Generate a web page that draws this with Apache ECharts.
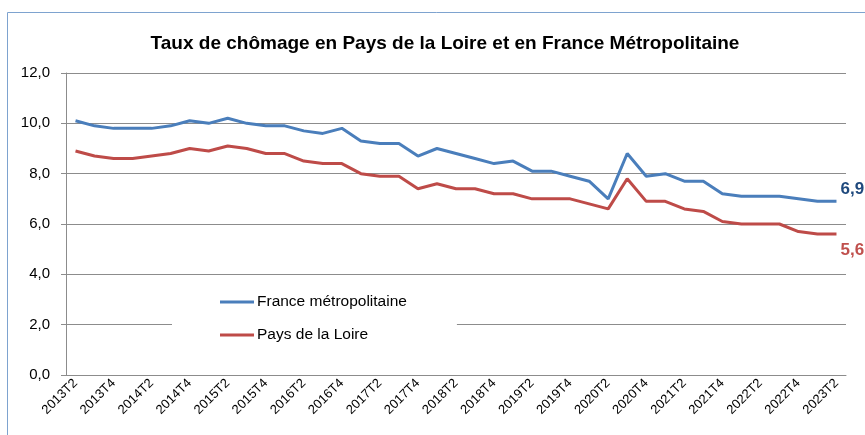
<!DOCTYPE html>
<html>
<head>
<meta charset="utf-8">
<script src="https://cdn.jsdelivr.net/npm/echarts@6/dist/echarts.min.js"></script>
<style>
  html, body { margin: 0; padding: 0; background: #fff; }
  #chart { width: 865px; height: 435px; }
</style>
</head>
<body>
<div id="chart"></div>
<script>
const categories = [
  '2013T2','2013T3','2013T4','2014T1','2014T2','2014T3','2014T4','2015T1','2015T2','2015T3',
  '2015T4','2016T1','2016T2','2016T3','2016T4','2017T1','2017T2','2017T3','2017T4','2018T1',
  '2018T2','2018T3','2018T4','2019T1','2019T2','2019T3','2019T4','2020T1','2020T2','2020T3',
  '2020T4','2021T1','2021T2','2021T3','2021T4','2022T1','2022T2','2022T3','2022T4','2023T1',
  '2023T2'
];
const franceValues = [
  10.1, 9.9, 9.8, 9.8, 9.8, 9.9, 10.1, 10.0, 10.2, 10.0,
  9.9, 9.9, 9.7, 9.6, 9.8, 9.3, 9.2, 9.2, 8.7, 9.0,
  8.8, 8.6, 8.4, 8.5, 8.1, 8.1, 7.9, 7.7, 7.0, 8.8,
  7.9, 8.0, 7.7, 7.7, 7.2, 7.1, 7.1, 7.1, 7.0, 6.9,
  6.9
];
const loireValues = [
  8.9, 8.7, 8.6, 8.6, 8.7, 8.8, 9.0, 8.9, 9.1, 9.0,
  8.8, 8.8, 8.5, 8.4, 8.4, 8.0, 7.9, 7.9, 7.4, 7.6,
  7.4, 7.4, 7.2, 7.2, 7.0, 7.0, 7.0, 6.8, 6.6, 7.8,
  6.9, 6.9, 6.6, 6.5, 6.1, 6.0, 6.0, 6.0, 5.7, 5.6,
  5.6
];
const yTicks = [0, 2, 4, 6, 8, 10, 12];
const titleText = 'Taux de chômage en Pays de la Loire et en France Métropolitaine';
const seriesNames = ['France métropolitaine', 'Pays de la Loire'];

const FONT = 'Liberation Sans';
const fmt = v => Number(v).toFixed(1).replace('.', ',');

const chart = echarts.init(document.getElementById('chart'), null, { renderer: 'canvas' });
chart.setOption({
  animation: false,
  backgroundColor: '#fff',
  textStyle: { fontFamily: FONT },
  graphic: [{
    type: 'rect',
    shape: { x: 7.5, y: 12.5, width: 900, height: 500 },
    style: { fill: 'none', stroke: '#7EA3CF', lineWidth: 1 },
    silent: true, z: -1
  }],
  title: {
    text: titleText,
    left: 440, top: 29, textAlign: 'center',
    textStyle: { fontFamily: FONT, fontWeight: 'bold', fontSize: 19, color: '#000' }
  },
  legend: {
    orient: 'vertical',
    left: 172, top: 285,
    padding: [9, 50, 12, 48],
    itemGap: 17,
    itemWidth: 34, itemHeight: 3,
    backgroundColor: '#fff',
    icon: 'rect',
    textStyle: { fontFamily: FONT, fontSize: 15.5, color: '#000', padding: [0, 0, 0, -2] },
    data: seriesNames
  },
  grid: { left: 66, right: 19, top: 73, bottom: 60, containLabel: false },
  xAxis: {
    type: 'category',
    data: categories,
    boundaryGap: true,
    axisLine: { lineStyle: { color: '#8c8c8c', width: 1 } },
    axisTick: { interval: 1, length: 5, lineStyle: { color: '#8c8c8c' } },
    axisLabel: { interval: 1, rotate: 45, fontSize: 13, color: '#000', fontFamily: FONT, margin: 6 }
  },
  yAxis: {
    type: 'value',
    min: yTicks[0], max: yTicks[yTicks.length - 1], interval: 2,
    axisLine: { show: true, lineStyle: { color: '#8c8c8c', width: 1 } },
    axisTick: { show: true, length: 5, inside: false, lineStyle: { color: '#8c8c8c' } },
    splitLine: { lineStyle: { color: '#8c8c8c', width: 1 } },
    axisLabel: { formatter: fmt, fontSize: 15, color: '#000', fontFamily: FONT, margin: 16 }
  },
  series: [
    {
      name: seriesNames[0], type: 'line', data: franceValues,
      symbol: 'none', color: '#4A7EBB',
      lineStyle: { width: 3, color: '#4A7EBB' },
      endLabel: {
        show: true, formatter: p => fmt(p.value), distance: 4, offset: [0, -12],
        fontSize: 17, fontWeight: 'bold', color: '#1F497D', fontFamily: FONT
      }
    },
    {
      name: seriesNames[1], type: 'line', data: loireValues,
      symbol: 'none', color: '#BE4B48',
      lineStyle: { width: 3, color: '#BE4B48' },
      endLabel: {
        show: true, formatter: p => fmt(p.value), distance: 4, offset: [0, 16],
        fontSize: 17, fontWeight: 'bold', color: '#C0504D', fontFamily: FONT
      }
    }
  ]
});
</script>
</body>
</html>
